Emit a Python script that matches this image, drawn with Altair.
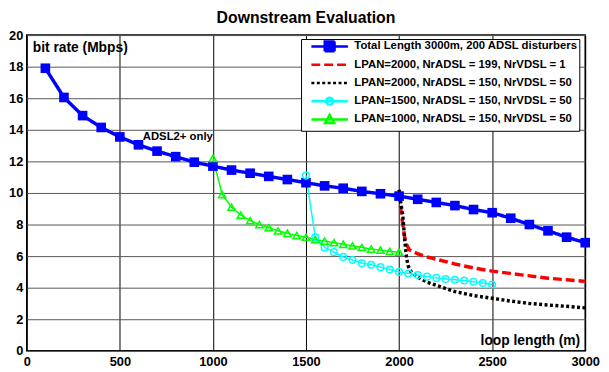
import altair as alt
import pandas as pd

series_names = [
    "Total Length 3000m, 200 ADSL disturbers",
    "LPAN=2000, NrADSL = 199, NrVDSL = 1",
    "LPAN=2000, NrADSL = 150, NrVDSL = 50",
    "LPAN=1500, NrADSL = 150, NrVDSL = 50",
    "LPAN=1000, NrADSL = 150, NrVDSL = 50",
]

total_x = [100, 200, 300, 400, 500, 600, 700, 800, 900, 1000,
           1100, 1200, 1300, 1400, 1500, 1600, 1700, 1800, 1900, 2000,
           2100, 2200, 2300, 2400, 2500, 2600, 2700, 2800, 2900, 3000]
total_y = [17.9, 16.05, 14.9, 14.15, 13.55, 13.05, 12.65, 12.3, 11.95, 11.7,
           11.45, 11.25, 11.05, 10.85, 10.65, 10.45, 10.3, 10.1, 9.95, 9.8,
           9.6, 9.4, 9.2, 8.95, 8.75, 8.4, 8.0, 7.6, 7.2, 6.85]

red_x = [2000, 2010, 2020, 2030, 2040, 2055, 2100, 2150, 2200, 2300,
         2400, 2500, 2600, 2700, 2800, 2900, 3000]
red_y = [10.0, 8.9, 8.0, 7.2, 6.75, 6.4, 6.15, 5.95, 5.8, 5.5,
         5.25, 5.05, 4.9, 4.75, 4.6, 4.5, 4.4]

black_x = [2000, 2010, 2020, 2030, 2040, 2050, 2065, 2100, 2150, 2200,
           2300, 2400, 2500, 2600, 2700, 2800, 2900, 3000]
black_y = [10.2, 9.3, 8.6, 7.1, 5.9, 5.35, 5.0, 4.67, 4.35, 4.15,
           3.75, 3.5, 3.33, 3.15, 3.0, 2.9, 2.82, 2.72]

cyan_x = [1500, 1550, 1600, 1650, 1700, 1750, 1800, 1850, 1900, 1950, 2000,
          2050, 2100, 2150, 2200, 2250, 2300, 2350, 2400, 2450, 2500]
cyan_y = [11.1, 7.2, 6.55, 6.25, 5.95, 5.75, 5.55, 5.45, 5.3, 5.15, 5.0,
          4.9, 4.8, 4.7, 4.62, 4.55, 4.5, 4.45, 4.38, 4.3, 4.2]

green_x = [1000, 1050, 1100, 1150, 1200, 1250, 1300, 1350, 1400, 1450, 1500,
           1550, 1600, 1650, 1700, 1750, 1800, 1850, 1900, 1950, 2000]
green_y = [12.2, 9.9, 9.1, 8.6, 8.25, 8.0, 7.8, 7.6, 7.45, 7.3, 7.2,
           7.05, 6.95, 6.85, 6.75, 6.65, 6.55, 6.45, 6.38, 6.3, 6.25]

x_ticks = [0, 500, 1000, 1500, 2000, 2500, 3000]
y_ticks = [0, 2, 4, 6, 8, 10, 12, 14, 16, 18, 20]

note_text = ["ADSL2+ only"]
note_x = [1000]
note_y = [13.55]
ylabel_text = ["bit rate (Mbps)"]
ylabel_x = [32]
ylabel_y = [19.2]
xlabel_text = ["loop length (m)"]
xlabel_x = [2973]
xlabel_y = [0.65]

colors = ["#0000ff", "#ff0000", "#000000", "#00ffff", "#00ff00"]
dashes = [[1, 0], [9, 4], [3, 2.5], [1, 0], [1, 0]]
fills = ["#0000ff", "transparent", "transparent", "transparent", "transparent"]
# legend glyphs: 1 unit = 5 px (symbolSize 100); leading moves even out row heights
EQ = "M0.6,-1M0.6,1"
legend_paths = [
    EQ + "M0.6,0H8M3.3,-1H5.3V1H3.3Z",
    EQ + "M0.6,0H8",
    EQ + "M0.6,0H8",
    EQ + "M0.6,0H8M5,0A0.7,0.7 0 1,1 3.6,0A0.7,0.7 0 1,1 5,0",
    EQ + "M0.6,0H8M4.3,-0.95L5.2,0.7L3.4,0.7Z",
]

rows = []
for name, xs, ys in zip(series_names,
                        [total_x, red_x, black_x, cyan_x, green_x],
                        [total_y, red_y, black_y, cyan_y, green_y]):
    for a, b in zip(xs, ys):
        rows.append({"series": name, "x": a, "y": b})
df = pd.DataFrame(rows)

FONT = "Liberation Sans"

x_enc = alt.X("x:Q", scale=alt.Scale(domain=[0, 3000], nice=False),
              axis=alt.Axis(values=x_ticks, title=None, grid=True, gridColor="#000000",
                            gridWidth=1, domain=False, ticks=False, tickSize=0,
                            labelPadding=5, labelFontSize=13, labelFontWeight="bold",
                            labelFont=FONT, labelColor="#000000", format="d",
                            labelFlush=False, labelOverlap=False, labelBound=False))
y_enc = alt.Y("y:Q", scale=alt.Scale(domain=[0, 20], nice=False),
              axis=alt.Axis(values=y_ticks, title=None, grid=True, gridColor="#555555",
                            gridWidth=1, domain=False, ticks=False, tickSize=0,
                            labelPadding=4, labelFontSize=13, labelFontWeight="bold",
                            labelFont=FONT, labelColor="#000000",
                            labelFlush=False, labelOverlap=False, labelBound=False))

leg = alt.Legend(title=None)
stroke_scale = alt.Scale(domain=series_names, range=colors)
dash_scale = alt.Scale(domain=series_names, range=dashes)

base = alt.Chart(df)

lines = base.mark_line(strokeJoin="round").encode(
    x=x_enc, y=y_enc,
    stroke=alt.Stroke("series:N", scale=stroke_scale, legend=leg),
    strokeDash=alt.StrokeDash("series:N", scale=dash_scale, legend=leg),
    strokeWidth=alt.condition(
        alt.FieldOneOfPredicate(field="series", oneOf=series_names[:3]),
        alt.value(3.5), alt.value(1.5)),
)

squares = base.mark_point(shape="square", filled=True, size=95, opacity=1,
                          color="#0000ff").encode(x=x_enc, y=y_enc).transform_filter(
    alt.FieldEqualPredicate(field="series", equal=series_names[0]))
circles = base.mark_point(shape="circle", filled=False, size=45, opacity=1,
                          color="#00ffff", strokeWidth=1.5).encode(x=x_enc, y=y_enc).transform_filter(
    alt.FieldEqualPredicate(field="series", equal=series_names[3]))
triangles = base.mark_point(shape="triangle-up", filled=False, size=55, opacity=1,
                            color="#00ff00", strokeWidth=1.5).encode(x=x_enc, y=y_enc).transform_filter(
    alt.FieldEqualPredicate(field="series", equal=series_names[4]))

legend_layer = base.mark_point(opacity=1).encode(
    x=x_enc, y=y_enc,
    stroke=alt.Stroke("series:N", scale=stroke_scale, legend=leg),
    strokeDash=alt.StrokeDash("series:N", scale=dash_scale, legend=leg),
    shape=alt.Shape("series:N", scale=alt.Scale(domain=series_names, range=legend_paths), legend=leg),
    fill=alt.Fill("series:N", scale=alt.Scale(domain=series_names, range=fills), legend=leg),
).transform_filter("false")

note = alt.Chart(pd.DataFrame({"text": note_text, "x": note_x, "y": note_y})).mark_text(
    font=FONT, fontWeight="bold", color="#000000", fontSize=11.5, align="right"
).encode(x=x_enc, y=y_enc, text="text:N")
ylab = alt.Chart(pd.DataFrame({"text": ylabel_text, "x": ylabel_x, "y": ylabel_y})).mark_text(
    font=FONT, fontWeight="bold", color="#000000", fontSize=14, align="left"
).encode(x=x_enc, y=y_enc, text="text:N")
xlab = alt.Chart(pd.DataFrame({"text": xlabel_text, "x": xlabel_x, "y": xlabel_y})).mark_text(
    font=FONT, fontWeight="bold", color="#000000", fontSize=14, align="right"
).encode(x=x_enc, y=y_enc, text="text:N")

chart = alt.layer(lines, squares, circles, triangles, legend_layer, note, ylab, xlab).properties(
    width=566, height=320,
    autosize=alt.AutoSizeParams(type="none"),
    padding={"left": 19, "top": 25, "right": 16, "bottom": 19},
    title=alt.TitleParams("Downstream Evaluation", font=FONT, fontSize=16,
                          fontWeight="bold", color="#000000", offset=3, anchor="middle"),
).configure_view(stroke="#000000", strokeWidth=1.5).configure_legend(
    orient="none", legendX=278, legendY=4, strokeColor="#000000", fillColor="#ffffff",
    padding=1, labelFont=FONT, labelFontSize=11.5, labelFontWeight="bold",
    labelColor="#000000", labelLimit=400, symbolSize=100, symbolStrokeWidth=2.5,
    rowPadding=-2.5, labelOffset=40,
)

chart.save("out.html", embed_options={"renderer": "svg", "actions": False})
